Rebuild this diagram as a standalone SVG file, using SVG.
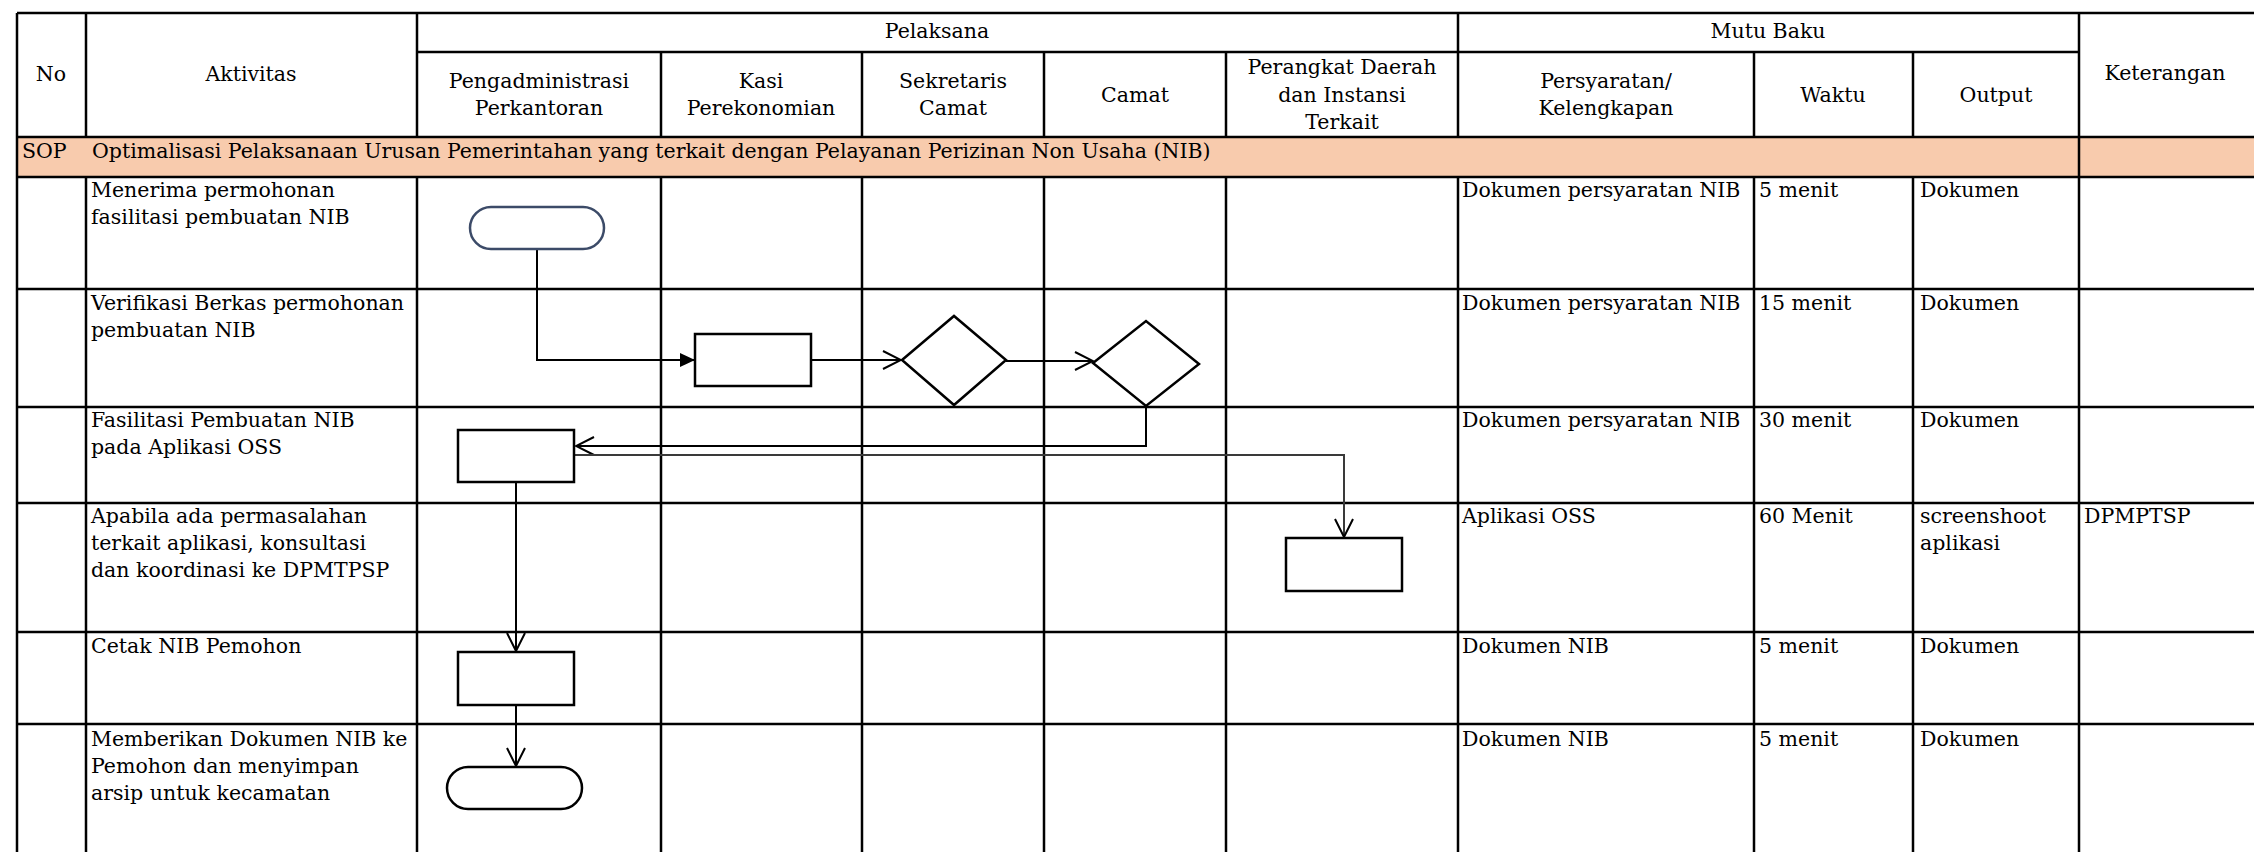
<svg xmlns="http://www.w3.org/2000/svg" width="2254" height="852" viewBox="0 0 2254 852" font-family="'DejaVu Serif', 'Liberation Serif', serif">
<style>
text{font-family:"DejaVu Serif","Liberation Serif",serif;font-size:20.5px;fill:#000}
text.c{text-anchor:middle}
.g{stroke:#000;stroke-width:2.5;fill:none}
.s{fill:#fff;stroke:#000;stroke-width:2.5}
.k{fill:none;stroke:#000;stroke-width:2}
.k2{fill:none;stroke:#3a3a3a;stroke-width:2}
</style>
<defs>
<marker id="open" viewBox="0 0 20 20" refX="19" refY="10" markerWidth="20" markerHeight="20" markerUnits="userSpaceOnUse" orient="auto">
<path d="M1,1 L19,10 L1,19" fill="none" stroke="#000" stroke-width="2"/>
</marker>
<marker id="fill" viewBox="0 0 16 16" refX="15" refY="8" markerWidth="16" markerHeight="16" markerUnits="userSpaceOnUse" orient="auto">
<path d="M0,1 L15,8 L0,15 z" fill="#000"/>
</marker>
</defs>
<rect width="2254" height="852" fill="#fff"/>
<rect x="17" y="137" width="2237" height="40" fill="#F8CBAD"/>
<g id="grid" class="g">
<path d="M17,13 H2254 M417,52 H2079 M17,137 H2254 M17,177 H2254 M17,289 H2254 M17,407 H2254 M17,503 H2254 M17,632 H2254 M17,724 H2254"/>
<path d="M17,13 V852 M2079,13 V852"/>
<path d="M86,13 V137 M417,13 V137 M1458,13 V137 M86,177 V852 M417,177 V852 M1458,177 V852"/>
<path d="M661,52 V137 M862,52 V137 M1044,52 V137 M1226,52 V137 M1754,52 V137 M1913,52 V137"/>
<path d="M661,177 V852 M862,177 V852 M1044,177 V852 M1226,177 V852 M1754,177 V852 M1913,177 V852"/>
</g>
<g id="header">
<text class="c" x="51" y="81">No</text>
<text class="c" x="251" y="81">Aktivitas</text>
<text class="c" x="937" y="38">Pelaksana</text>
<text class="c" x="1768" y="38">Mutu Baku</text>
<text class="c" x="539" y="88">Pengadministrasi</text>
<text class="c" x="539" y="115">Perkantoran</text>
<text class="c" x="761" y="88">Kasi</text>
<text class="c" x="761" y="115">Perekonomian</text>
<text class="c" x="953" y="88">Sekretaris</text>
<text class="c" x="953" y="115">Camat</text>
<text class="c" x="1135" y="102">Camat</text>
<text class="c" x="1342" y="74">Perangkat Daerah</text>
<text class="c" x="1342" y="102">dan Instansi</text>
<text class="c" x="1342" y="129">Terkait</text>
<text class="c" x="1606" y="88">Persyaratan/</text>
<text class="c" x="1606" y="115">Kelengkapan</text>
<text class="c" x="1833" y="102">Waktu</text>
<text class="c" x="1996" y="102">Output</text>
<text class="c" x="2165" y="80">Keterangan</text>
</g>
<g id="sop">
<text x="22" y="158">SOP</text>
<text x="92" y="158">Optimalisasi Pelaksanaan Urusan Pemerintahan yang terkait dengan Pelayanan Perizinan Non Usaha (NIB)</text>
</g>
<g id="activities">
<text x="91" y="197">Menerima permohonan</text>
<text x="91" y="224">fasilitasi pembuatan NIB</text>
<text x="91" y="310">Verifikasi Berkas permohonan</text>
<text x="91" y="337">pembuatan NIB</text>
<text x="91" y="427">Fasilitasi Pembuatan NIB</text>
<text x="91" y="454">pada Aplikasi OSS</text>
<text x="91" y="523">Apabila ada permasalahan</text>
<text x="91" y="550">terkait aplikasi, konsultasi</text>
<text x="91" y="577">dan koordinasi ke DPMTPSP</text>
<text x="91" y="653">Cetak NIB Pemohon</text>
<text x="91" y="746">Memberikan Dokumen NIB ke</text>
<text x="91" y="773">Pemohon dan menyimpan</text>
<text x="91" y="800">arsip untuk kecamatan</text>
</g>
<g id="mutu">
<text x="1462" y="197">Dokumen persyaratan NIB</text>
<text x="1759" y="197">5 menit</text>
<text x="1920" y="197">Dokumen</text>
<text x="1462" y="310">Dokumen persyaratan NIB</text>
<text x="1759" y="310">15 menit</text>
<text x="1920" y="310">Dokumen</text>
<text x="1462" y="427">Dokumen persyaratan NIB</text>
<text x="1759" y="427">30 menit</text>
<text x="1920" y="427">Dokumen</text>
<text x="1462" y="523">Aplikasi OSS</text>
<text x="1759" y="523">60 Menit</text>
<text x="1920" y="523">screenshoot</text>
<text x="1920" y="550">aplikasi</text>
<text x="2084" y="523">DPMPTSP</text>
<text x="1462" y="653">Dokumen NIB</text>
<text x="1759" y="653">5 menit</text>
<text x="1920" y="653">Dokumen</text>
<text x="1462" y="746">Dokumen NIB</text>
<text x="1759" y="746">5 menit</text>
<text x="1920" y="746">Dokumen</text>
</g>
<g id="connectors">
<path class="k" d="M537,249 V360 H695" marker-end="url(#fill)"/>
<path class="k" d="M811,360 H901" marker-end="url(#open)"/>
<path class="k" d="M1006,361 H1093" marker-end="url(#open)"/>
<path class="k" d="M1146,406 V446 H576" marker-end="url(#open)"/>
<path class="k2" d="M575,455 H1344 V537" marker-end="url(#open)"/>
<path class="k" d="M516,482 V651" marker-end="url(#open)"/>
<path class="k" d="M516,705 V766" marker-end="url(#open)"/>
</g>
<g id="n-start"><rect class="s" x="470" y="207" width="134" height="42" rx="21" style="stroke:#3C4B68"/></g>
<g id="n-verif"><rect class="s" x="695" y="334" width="116" height="52"/></g>
<g id="n-d1"><polygon class="s" points="902,360 954,316 1006,360 954,405"/></g>
<g id="n-d2"><polygon class="s" points="1093,363 1146,321 1199,364 1146,406"/></g>
<g id="n-fasil"><rect class="s" x="458" y="430" width="116" height="52"/></g>
<g id="n-dpmptsp"><rect class="s" x="1286" y="538" width="116" height="53"/></g>
<g id="n-cetak"><rect class="s" x="458" y="652" width="116" height="53"/></g>
<g id="n-end"><rect class="s" x="447" y="767" width="135" height="42" rx="21"/></g>
</svg>
